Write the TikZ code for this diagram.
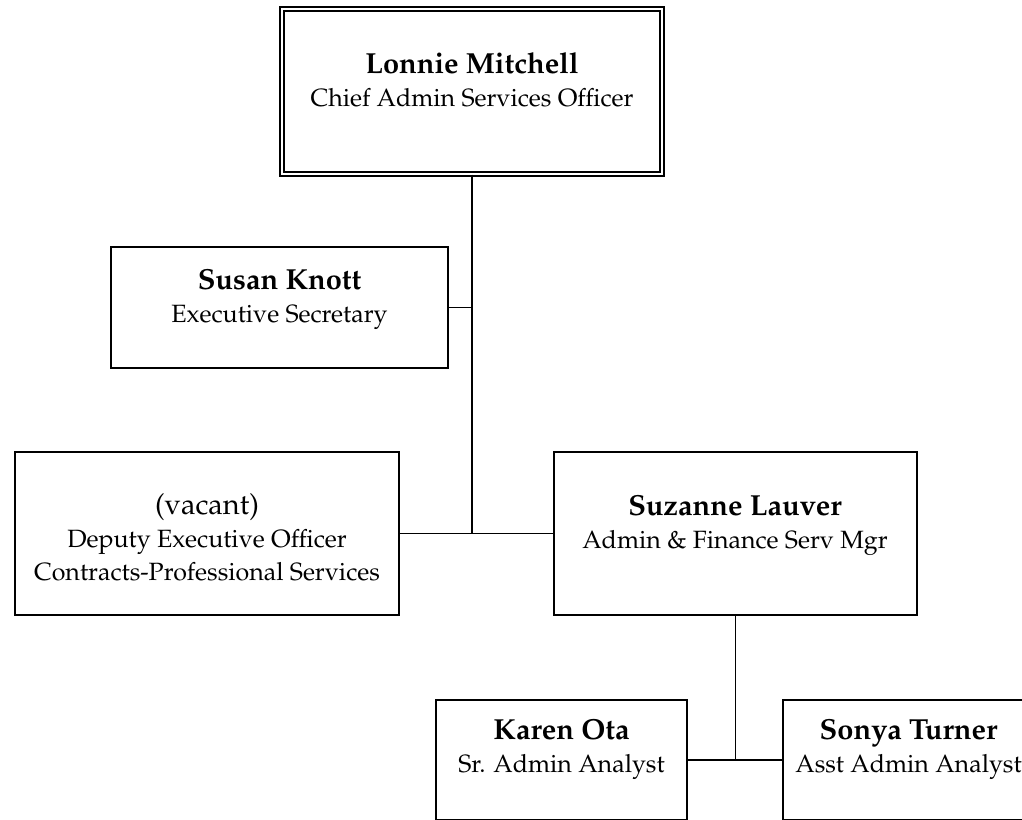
\documentclass[tikz,border=0pt]{standalone}
\usepackage[T1]{fontenc}
\usepackage{mathpazo}
\usepackage{tikz}

\newcommand{\who}[1]{{\fontsize{29}{33}\selectfont\bfseries #1}}

\begin{document}
\begin{tikzpicture}[x=1pt, y=-1pt]
\tikzstyle{box} = [draw, rectangle, line width=1.7pt]
\tikzstyle{link} = [line width=1.7pt]
\tikzstyle{txt} = [align=center, anchor=base, inner sep=0pt, font=\fontsize{25}{33}\selectfont]
\useasboundingbox (0,0) rectangle (1022,819);
% boxes
\node[box, double, double distance=2.6pt, line width=1.3pt, minimum width=380pt, minimum height=165pt] (cao) at (472,91.5) {};
\node[box, minimum width=337pt, minimum height=121pt] (sec) at (279.5,307.5) {};
\node[box, minimum width=384pt, minimum height=163pt] (dep) at (207,533.5) {};
\node[box, minimum width=363pt, minimum height=163pt] (mgr) at (735.5,533.5) {};
\node[box, minimum width=251pt, minimum height=120pt] (sra) at (561.5,760) {};
\node[box, minimum width=251pt, minimum height=120pt] (asa) at (908.5,760) {};
% texts
\node[txt] (caot) at (472,106) {\who{Lonnie Mitchell}\\Chief Admin Services Officer};
\node[txt] (sect) at (279.5,322) {\who{Susan Knott}\\Executive Secretary};
\node[txt] (dept) at (207,580) {{\fontsize{29}{33}\selectfont (vacant)}\\Deputy Executive Officer\\Contracts-Professional Services};
\node[txt] (mgrt) at (735,548) {\who{Suzanne Lauver}\\Admin \& Finance Serv Mgr};
\node[txt] (srat) at (561.5,772) {\who{Karen Ota}\\Sr. Admin Analyst};
\node[txt] (asat) at (908.5,772) {\who{Sonya Turner}\\Asst Admin Analyst};
% connectors
\draw[link] (cao.south) -- (cao.south |- dep.east);
\draw[link] (sec.east) -- (sec.east -| cao.south);
\draw[link] (mgr.south) -- (mgr.south |- sra.east);
\foreach \from/\to in {dep/mgr, sra/asa}
\draw[link] (\from.east) -- (\to.west);
\end{tikzpicture}
\end{document}
